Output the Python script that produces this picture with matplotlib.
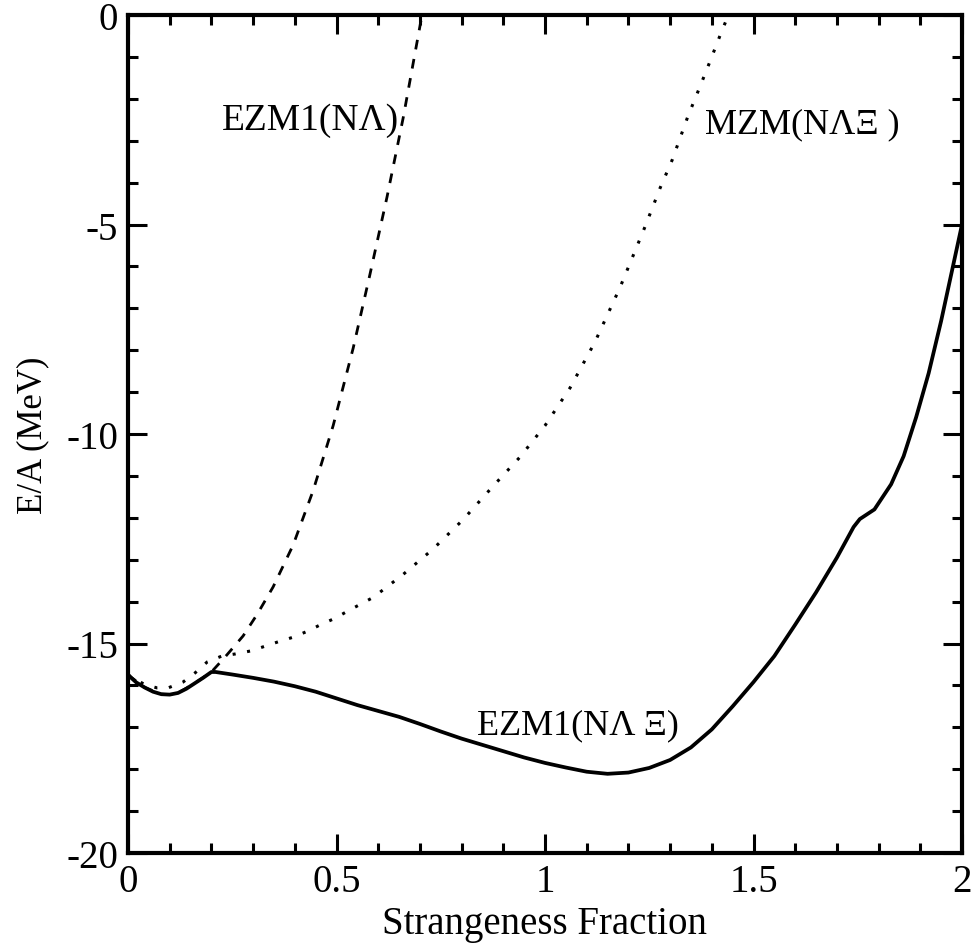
import matplotlib
matplotlib.use("Agg")
import matplotlib.pyplot as plt
from matplotlib.ticker import MultipleLocator

plt.rcParams['font.family'] = ['Liberation Serif', 'DejaVu Serif']

# EZM1(N Lambda Xi) - solid
x_ezm_lx = [0.0, 0.02, 0.04, 0.06, 0.08, 0.10, 0.12, 0.14, 0.16, 0.18, 0.20, 0.21,
            0.25, 0.30, 0.35, 0.40, 0.45, 0.50, 0.55, 0.60, 0.65, 0.70, 0.75, 0.80,
            0.85, 0.90, 0.95, 1.00, 1.05, 1.10, 1.15, 1.20, 1.25, 1.30, 1.35, 1.40,
            1.45, 1.50, 1.55, 1.60, 1.65, 1.70, 1.74, 1.755, 1.79, 1.83, 1.86, 1.89,
            1.92, 1.95, 1.975, 2.0]
y_ezm_lx = [-15.75, -15.93, -16.05, -16.15, -16.21, -16.22, -16.18, -16.08, -15.95, -15.82, -15.68, -15.68,
            -15.74, -15.82, -15.91, -16.02, -16.15, -16.31, -16.47, -16.61, -16.75, -16.92, -17.10, -17.27,
            -17.42, -17.57, -17.72, -17.85, -17.96, -18.06, -18.11, -18.08, -17.97, -17.78, -17.48, -17.05,
            -16.50, -15.92, -15.30, -14.55, -13.78, -12.95, -12.22, -12.03, -11.80, -11.20, -10.53, -9.60,
            -8.55, -7.30, -6.15, -5.0]

# EZM1(N Lambda) - dashed
x_ezm_l = [0.0, 0.04, 0.08, 0.10, 0.12, 0.16, 0.20, 0.233, 0.276, 0.31, 0.348, 0.396,
           0.444, 0.492, 0.54, 0.58, 0.621, 0.66, 0.705]
y_ezm_l = [-15.75, -16.05, -16.21, -16.22, -16.18, -15.95, -15.68, -15.32, -14.82, -14.30, -13.65, -12.65,
           -11.35, -9.80, -7.95, -6.20, -4.35, -2.45, 0.0]

# MZM(N Lambda Xi) - dotted
x_mzm = [0.0, 0.04, 0.07, 0.096, 0.132, 0.161, 0.19, 0.225, 0.257, 0.293, 0.324, 0.36,
         0.396, 0.432, 0.46, 0.496, 0.528, 0.588, 0.66, 0.731, 0.803, 0.875, 0.94, 1.0,
         1.06, 1.12, 1.18, 1.24, 1.276, 1.305, 1.343, 1.37, 1.396, 1.424, 1.44]
y_mzm = [-15.75, -15.98, -16.06, -16.06, -15.92, -15.70, -15.44, -15.30, -15.25, -15.18, -15.08, -14.96,
         -14.85, -14.70, -14.56, -14.40, -14.22, -13.90, -13.35, -12.75, -12.05, -11.25, -10.55, -9.80,
         -8.90, -7.80, -6.50, -5.05, -4.13, -3.46, -2.41, -1.75, -1.10, -0.38, 0.0]

labels = ["EZM1(NΛ)", "MZM(NΛΞ )", "EZM1(NΛ Ξ)"]
xtick_vals = [0, 0.5, 1, 1.5, 2]
xtick_labels = ['0', '0.5', '1', '1.5', '2']
ytick_vals = [-20, -15, -10, -5, 0]
ytick_labels = ['-20', '-15', '-10', '-5', '0']

fig = plt.figure(figsize=(9.76, 9.45), dpi=100)
ax = fig.add_axes([128/976, 1-854/945, (962-128)/976, (854-16)/945])

ax.plot(x_ezm_lx, y_ezm_lx, color='black', lw=2.7, solid_joinstyle='round')
ax.plot(x_ezm_l, y_ezm_l, color='black', lw=2.0, dashes=(3.5, 3.5))
ax.plot(x_mzm, y_mzm, color='black', lw=2.2, dashes=(1.0, 3.8))

ax.set_xlim(0, 2)
ax.set_ylim(-20, 0)
ax.xaxis.set_minor_locator(MultipleLocator(0.1))
ax.yaxis.set_minor_locator(MultipleLocator(1))
ax.set_xticks(xtick_vals)
ax.set_xticklabels(xtick_labels)
ax.set_yticks(ytick_vals)
ax.set_yticklabels(ytick_labels)

ax.tick_params(which='both', direction='in', top=True, right=True, width=2.2, labelsize=28)
ax.tick_params(which='major', length=14, pad=7)
ax.tick_params(which='minor', length=7.5)
for s in ax.spines.values():
    s.set_linewidth(3)

ax.set_xlabel('Strangeness Fraction', fontsize=28, labelpad=4)
ax.set_ylabel('E/A (MeV)', fontsize=25, labelpad=12)

ax.text(0.225, -2.5, labels[0], fontsize=27, ha='left', va='center')
ax.text(1.384, -2.6, labels[1], fontsize=26, ha='left', va='center')
ax.text(0.837, -16.95, labels[2], fontsize=26, ha='left', va='center')

fig.savefig('out.png', dpi=100)
